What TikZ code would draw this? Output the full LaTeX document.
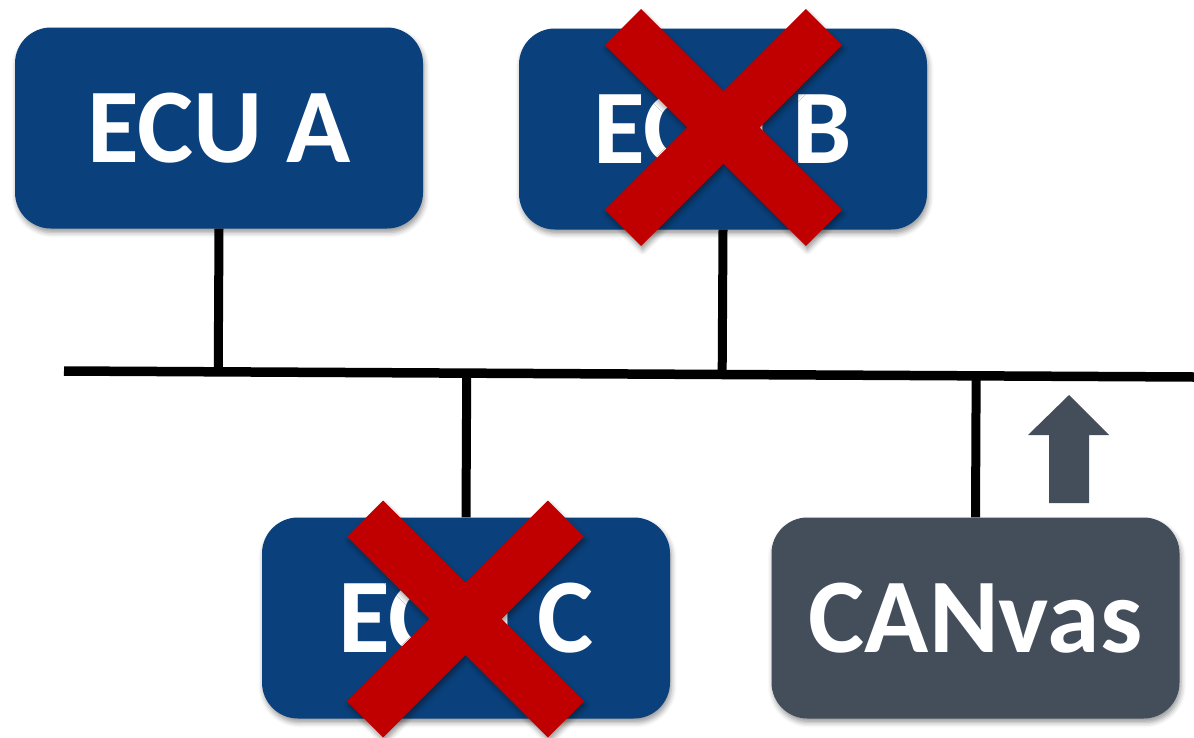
\documentclass[tikz,border=0pt]{standalone}
\usepackage{fontspec}
\setmainfont{Carlito}
\usetikzlibrary{calc,shadows.blur}
\definecolor{ecublue}{HTML}{0A417C}
\definecolor{slategray}{HTML}{444E5B}
\definecolor{xred}{HTML}{C00000}
\begin{document}
\begin{tikzpicture}[x=1pt,y=-1pt,
  softshadow/.style={blur shadow={shadow xshift=1.5pt, shadow yshift=-4pt,
      shadow blur radius=5pt, shadow opacity=40}},
  unitbox/.style={rectangle, rounded corners=36pt, minimum width=408pt,
      minimum height=201pt, inner sep=0pt, text=white, softshadow,
      font=\fontsize{106}{110}\selectfont\bfseries},
  ecu/.style={unitbox, fill=ecublue},
  tool/.style={unitbox, fill=slategray},
  bus/.style={line width=9.5pt, black},
  stub/.style={line width=9pt, black},
  cross/.style={fill=xred, softshadow},
]
\useasboundingbox (0,0) rectangle (1194,737);

% bus line
\coordinate (busW) at (64,371);
\coordinate (busE) at (1194,377);

% control units
\node[ecu]  (A) at (219,128)   {ECU A};
\node[ecu]  (B) at (723,129)   {ECU B};
\node[ecu]  (C) at (466,618)   {ECU C};
\node[tool] (V) at (975.5,618) {CANvas};

% bus and stubs
\draw[bus] (busW) -- (busE);
\draw[stub] (A.south) -- ($(busW)!(A.south)!(busE)$);
\draw[stub] (B.south) -- ($(busW)!(B.south)!(busE)$);
\draw[stub] (C.north) -- ($(busW)!(C.north)!(busE)$);
\draw[stub] (V.north) -- ($(busW)!(V.north)!(busE)$);

% failure marks over ECU B and ECU C
\foreach \n/\dx/\dy in {B/0.5/-1.5, C/-0.5/1} {
  \path[cross, shift={($(\n.center)+(\dx,\dy)$)}, rotate=45]
    (142,25.5) -- (25.5,25.5) -- (25.5,142) -- (-25.5,142) -- (-25.5,25.5)
    -- (-142,25.5) -- (-142,-25.5) -- (-25.5,-25.5) -- (-25.5,-142)
    -- (25.5,-142) -- (25.5,-25.5) -- (142,-25.5) -- cycle;
}

% injection arrow
\fill[slategray] (1049,503) -- (1049,435) -- (1028,435) -- (1069,395)
  -- (1109,435) -- (1089,435) -- (1089,503) -- cycle;
\end{tikzpicture}
\end{document}
